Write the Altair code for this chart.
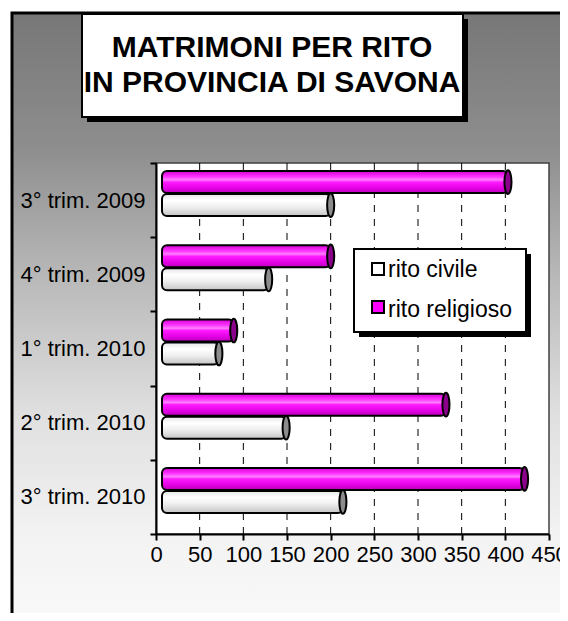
import altair as alt
import pandas as pd

# ---------------- data ----------------
categories = ["3° trim. 2009", "4° trim. 2009", "1° trim. 2010", "2° trim. 2010", "3° trim. 2010"]
rito_civile = [200, 129, 72, 149, 214]
rito_religioso = [403, 200, 89, 332, 422]
series_names = ["rito civile", "rito religioso"]
x_ticks = [0, 50, 100, 150, 200, 250, 300, 350, 400, 450]
title_lines = ["MATRIMONI PER RITO", "IN PROVINCIA DI SAVONA"]

W, H = 393, 371
FONT = "Liberation Sans"

df_civ = pd.DataFrame({"trimestre": categories, "valore": rito_civile, "serie": series_names[0]})
df_rel = pd.DataFrame({"trimestre": categories, "valore": rito_religioso, "serie": series_names[1]})
df_grid = pd.DataFrame({"v": x_ticks[1:-1]})
one = pd.DataFrame({"k": [0]})

x_scale = alt.Scale(domain=[x_ticks[0], x_ticks[-1]], nice=False, zero=True)
y_scale = alt.Scale(domain=categories, paddingInner=0, paddingOuter=0)

x_axis = alt.Axis(values=x_ticks, title=None, grid=False, domainColor="black", domainWidth=2,
                  tickColor="black", tickWidth=2, tickSize=6, labelFont=FONT, labelFontSize=22,
                  labelColor="black", labelPadding=4, labelFlush=False, zindex=1)
y_axis = alt.Axis(title=None, grid=False, domainColor="black", domainWidth=2, tickColor="black",
                  tickWidth=2, tickSize=6, tickBand="extent", labelFont=FONT, labelFontSize=22,
                  labelColor="black", labelPadding=5, zindex=1)

bg_grad = alt.LinearGradient(gradient="linear", x1=0, y1=0, x2=0, y2=1, stops=[
    alt.GradientStop(offset=0, color="#777777"),
    alt.GradientStop(offset=0.22, color="#8e8e8e"),
    alt.GradientStop(offset=0.45, color="#bdbdbd"),
    alt.GradientStop(offset=0.65, color="#e0e0e0"),
    alt.GradientStop(offset=0.85, color="#f3f3f3"),
    alt.GradientStop(offset=1, color="#fafafa"),
])
mag_grad = alt.LinearGradient(gradient="linear", x1=0, y1=0, x2=0, y2=1, stops=[
    alt.GradientStop(offset=0, color="#d400d4"),
    alt.GradientStop(offset=0.25, color="#ff33ff"),
    alt.GradientStop(offset=0.4, color="#ff80ff"),
    alt.GradientStop(offset=0.5, color="#ff1aff"),
    alt.GradientStop(offset=0.8, color="#e000e0"),
    alt.GradientStop(offset=1, color="#b800b8"),
])
gray_grad = alt.LinearGradient(gradient="linear", x1=0, y1=0, x2=0, y2=1, stops=[
    alt.GradientStop(offset=0, color="#e6e6e6"),
    alt.GradientStop(offset=0.3, color="#ffffff"),
    alt.GradientStop(offset=0.6, color="#eeeeee"),
    alt.GradientStop(offset=1, color="#c4c4c4"),
])

ellipse = "M0,-1A0.3,1,0,1,1,0,1A0.3,1,0,1,1,0,-1Z"

base_one = alt.Chart(one)

background = base_one.mark_rect(fill=bg_grad, stroke="black", strokeWidth=3).encode(
    x=alt.value(-144), x2=alt.value(430), y=alt.value(-150), y2=alt.value(470))

title_shadow = base_one.mark_rect(fill="black").encode(
    x=alt.value(-69), x2=alt.value(312), y=alt.value(-144), y2=alt.value(-41))
title_box = base_one.mark_rect(fill="white", stroke="black", strokeWidth=2).encode(
    x=alt.value(-74), x2=alt.value(307), y=alt.value(-149), y2=alt.value(-46))
title_df = pd.DataFrame({"t": title_lines, "i": [0, 1]})
title1 = alt.Chart(title_df).transform_filter("datum.i == 0").mark_text(
    font=FONT, fontSize=30, fontWeight="bold", color="black", align="center", baseline="alphabetic"
).encode(text="t:N", x=alt.value(116), y=alt.value(-106))
title2 = alt.Chart(title_df).transform_filter("datum.i == 1").mark_text(
    font=FONT, fontSize=30, fontWeight="bold", color="black", align="center", baseline="alphabetic"
).encode(text="t:N", x=alt.value(116), y=alt.value(-71))

plot_bg = base_one.mark_rect(fill="white", stroke="#404040", strokeWidth=1.5).encode(
    x=alt.value(0), x2=alt.value(W), y=alt.value(0), y2=alt.value(H))

grid = alt.Chart(df_grid).mark_rule(color="black", strokeWidth=1, strokeDash=[7, 7]).encode(
    x=alt.X("v:Q", scale=x_scale, axis=x_axis), y=alt.value(0), y2=alt.value(H))

def bars(df, grad, cap, yoff):
    b = alt.Chart(df).mark_bar(size=22, yOffset=yoff, cornerRadius=5,
                               fill=grad, stroke="black", strokeWidth=2).encode(
        x=alt.X("valore:Q", scale=x_scale, axis=x_axis, stack=None),
        x2=alt.value(6),
        y=alt.Y("trimestre:N", scale=y_scale, axis=y_axis, sort=categories))
    c = alt.Chart(df).mark_point(shape=ellipse, size=560, filled=True, fill=cap, stroke="black",
                                 strokeWidth=2, opacity=1, yOffset=yoff).encode(
        x=alt.X("valore:Q", scale=x_scale, axis=x_axis),
        y=alt.Y("trimestre:N", scale=y_scale, axis=y_axis, sort=categories))
    return b + c

civ = bars(df_civ, gray_grad, "#8c8c8c", 5)
rel = bars(df_rel, mag_grad, "#8b008b", -18)

leg_shadow = base_one.mark_rect(fill="black").encode(
    x=alt.value(203), x2=alt.value(375), y=alt.value(91), y2=alt.value(174))
leg_box = base_one.mark_rect(fill="white", stroke="black", strokeWidth=2).encode(
    x=alt.value(198), x2=alt.value(370), y=alt.value(86), y2=alt.value(169))
leg_df = pd.DataFrame({"serie": series_names, "i": [0, 1]})
sym1 = base_one.mark_rect(fill="white", stroke="black", strokeWidth=2).encode(
    x=alt.value(216), x2=alt.value(228), y=alt.value(100), y2=alt.value(112))
sym2 = base_one.mark_rect(fill="#ff00ff", stroke="black", strokeWidth=2).encode(
    x=alt.value(216), x2=alt.value(228), y=alt.value(138), y2=alt.value(150))
lt1 = alt.Chart(leg_df).transform_filter("datum.i == 0").mark_text(
    font=FONT, fontSize=23, color="black", align="left", baseline="alphabetic"
).encode(text="serie:N", x=alt.value(232), y=alt.value(114))
lt2 = alt.Chart(leg_df).transform_filter("datum.i == 1").mark_text(
    font=FONT, fontSize=23, color="black", align="left", baseline="alphabetic"
).encode(text="serie:N", x=alt.value(232), y=alt.value(154))

chart = alt.layer(
    background, title_shadow, title_box, title1, title2, plot_bg, grid, civ, rel,
    leg_shadow, leg_box, sym1, sym2, lt1, lt2
).properties(
    width=W, height=H,
    autosize=alt.AutoSizeParams(type="none"),
    padding={"left": 148, "top": 155, "right": 11, "bottom": 79},
).configure_view(stroke=None)

chart.save("out.html", embed_options={"renderer": "svg", "actions": False})
